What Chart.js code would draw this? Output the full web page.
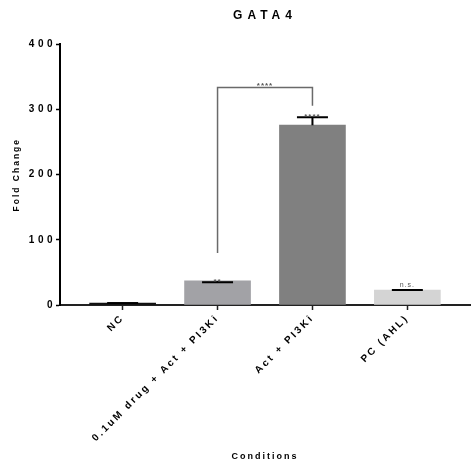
<!DOCTYPE html>
<html>
<head>
<meta charset="utf-8">
<script src="https://cdn.jsdelivr.net/npm/chart.js@4"></script>
<style>
  html, body { margin: 0; padding: 0; background: #fff; }
  #wrap { width: 475px; height: 468px; }
</style>
</head>
<body>
<div id="wrap"><canvas id="gataChart"></canvas></div>
<script>
// Datos
const categories = ['NC', '0.1uM drug + Act + PI3Ki', 'Act + PI3Ki', 'PC (AHL)'];
const foldChange = [3, 37, 276, 23];
const errorTop = [3, 35, 288, 23];
const sigLabels = ['', '**', '****', 'n.s.'];
const barColors = ['#111111', '#a2a2a6', '#808080', '#d4d4d4'];
const yTicks = [0, 100, 200, 300, 400];

// Comparacion entre grupos (corchete)
const bracketGroups = [1, 2];
const bracketTop = 334;
const bracketLegEnds = [80, 306];
const bracketLabel = '****';

const FONT = "'Liberation Sans', Arial, sans-serif";

// Barras de error, etiquetas y corchete
const annotationPlugin = {
    id: 'annotations',
    afterDatasetsDraw(chart) {
        const ctx = chart.ctx;
        const x = chart.scales.x;
        const y = chart.scales.y;
        ctx.save();
        ctx.letterSpacing = '1px';

        // error bars
        ctx.strokeStyle = '#000';
        ctx.lineWidth = 2;
        categories.forEach(function(c, i) {
            const px = x.getPixelForValue(i);
            const yv = y.getPixelForValue(foldChange[i]);
            const yh = y.getPixelForValue(errorTop[i]);
            ctx.beginPath();
            ctx.moveTo(px, yv);
            ctx.lineTo(px, yh);
            ctx.moveTo(px - 15.5, yh);
            ctx.lineTo(px + 15.5, yh);
            ctx.stroke();

            if (sigLabels[i]) {
                ctx.fillStyle = '#555';
                ctx.textAlign = 'center';
                ctx.textBaseline = 'alphabetic';
                if (sigLabels[i].indexOf('*') === 0) {
                    ctx.font = 'bold 8px ' + FONT;
                    ctx.fillText(sigLabels[i], px, yh + 2);
                } else {
                    ctx.font = '7px ' + FONT;
                    ctx.fillText(sigLabels[i], px, yh - 3);
                }
            }
        });

        // bracket
        const x1 = x.getPixelForValue(bracketGroups[0]);
        const x2 = x.getPixelForValue(bracketGroups[1]);
        const yt = y.getPixelForValue(bracketTop);
        ctx.strokeStyle = '#6a6a6a';
        ctx.lineWidth = 1.5;
        ctx.beginPath();
        ctx.moveTo(x1, y.getPixelForValue(bracketLegEnds[0]));
        ctx.lineTo(x1, yt);
        ctx.lineTo(x2, yt);
        ctx.lineTo(x2, y.getPixelForValue(bracketLegEnds[1]));
        ctx.stroke();
        ctx.fillStyle = '#555';
        ctx.font = 'bold 8px ' + FONT;
        ctx.textAlign = 'center';
        ctx.fillText(bracketLabel, (x1 + x2) / 2, yt + 1);
        ctx.restore();
    }
};

// Espaciado de letras como en GraphPad
function withSpacing(chart, fn, spacing) {
    return function() {
        chart.ctx.save();
        chart.ctx.letterSpacing = spacing;
        fn.apply(this, arguments);
        chart.ctx.restore();
    };
}

const spacingPlugin = {
    id: 'spacing',
    afterInit(chart) {
        const title = chart.titleBlock;
        if (title) {
            title.draw = withSpacing(chart, title.draw, '5px');
        }
    },
    beforeLayout(chart) {
        chart.ctx.letterSpacing = '2px';
    },
    afterLayout(chart) {
        const xs = chart.scales.x;
        const ys = chart.scales.y;
        if (xs && !xs._spaced) {
            xs.drawLabels = withSpacing(chart, xs.drawLabels, '2.4px');
            xs._spaced = true;
        }
        if (ys && !ys._spaced) {
            ys.drawLabels = withSpacing(chart, ys.drawLabels, '3.5px');
            ys._spaced = true;
        }
    },
    beforeDraw(chart) {
        chart.ctx.letterSpacing = '2px';
    }
};

const ctx = document.getElementById('gataChart');
new Chart(ctx, {
    type: 'bar',
    data: {
        datasets: [{
            data: categories.map(function(c, i) { return { x: i, y: foldChange[i] }; }),
            backgroundColor: barColors,
            borderWidth: 0,
            barThickness: 66
        }]
    },
    plugins: [spacingPlugin, annotationPlugin],
    options: {
        responsive: true,
        maintainAspectRatio: false,
        animation: false,
        layout: {
            padding: { left: 0, right: 5, top: 0, bottom: 0 }
        },
        plugins: {
            legend: { display: false },
            tooltip: { enabled: false },
            title: {
                display: true,
                text: 'GATA4',
                fullSize: false,
                color: '#000',
                font: { family: FONT, size: 12, weight: 'bold' },
                padding: { top: 8, bottom: 22 }
            }
        },
        scales: {
            x: {
                type: 'linear',
                min: -0.66,
                max: 3.66,
                offset: false,
                afterBuildTicks: function(scale) {
                    scale.ticks = categories.map(function(c, i) { return { value: i }; });
                },
                afterFit: function(scale) {
                    scale.height = 163;
                },
                border: { display: true, color: '#222', width: 2 },
                grid: {
                    display: true,
                    offset: false,
                    drawOnChartArea: false,
                    drawTicks: true,
                    tickLength: 5,
                    tickWidth: 1.5,
                    color: '#222'
                },
                ticks: {
                    autoSkip: false,
                    minRotation: 45,
                    maxRotation: 45,
                    padding: 2,
                    color: '#000',
                    font: { family: FONT, size: 10, weight: 'bold' },
                    callback: function(value) {
                        return categories[value];
                    }
                },
                title: {
                    display: true,
                    text: 'Conditions',
                    color: '#000',
                    font: { family: FONT, size: 9, weight: 'bold' },
                    padding: { top: 0, bottom: 6 }
                }
            },
            y: {
                min: 0,
                max: 400,
                afterBuildTicks: function(scale) {
                    scale.ticks = yTicks.map(function(v) { return { value: v }; });
                },
                afterFit: function(scale) {
                    scale.width = 60;
                },
                border: { display: true, color: '#000', width: 2 },
                grid: {
                    display: true,
                    drawOnChartArea: false,
                    drawTicks: true,
                    tickLength: 4,
                    tickWidth: 1.5,
                    color: '#000'
                },
                ticks: {
                    padding: 0,
                    color: '#000',
                    font: { family: FONT, size: 10, weight: 'bold' }
                },
                title: {
                    display: true,
                    text: 'Fold Change',
                    color: '#000',
                    font: { family: FONT, size: 8.5, weight: 'bold' },
                    padding: { top: 12, bottom: 0 }
                }
            }
        }
    }
});
</script>
</body>
</html>
